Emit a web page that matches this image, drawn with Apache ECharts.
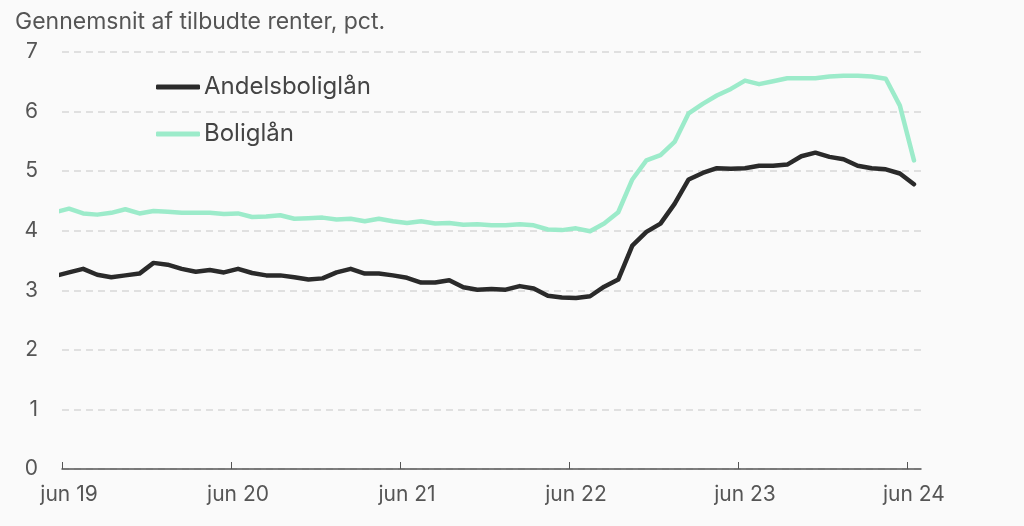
<!DOCTYPE html>
<html>
<head>
<meta charset="utf-8">
<script src="https://cdn.jsdelivr.net/npm/echarts@6/dist/echarts.min.js"></script>
<style>
  html, body { margin: 0; padding: 0; background: #fafafa; }
  #chart { width: 1024px; height: 526px; }
</style>
</head>
<body>
<div id="chart"></div>
<script>
// maanedlige tal, maj 19 - jun 24 (maj 19 klippes af ved aksens start)
var monthNames = ['jan', 'feb', 'mar', 'apr', 'maj', 'jun', 'jul', 'aug', 'sep', 'okt', 'nov', 'dec'];
var months = [];
for (var i = 0; i < 62; i++) {
    var m = (4 + i) % 12;
    var y = 19 + Math.floor((4 + i) / 12);
    months.push(monthNames[m] + ' ' + y);
}

var andelsboliglaan = [3.24, 3.30, 3.36, 3.26, 3.22, 3.25, 3.28, 3.46, 3.43, 3.36,
    3.31, 3.34, 3.30, 3.36, 3.29, 3.25, 3.25, 3.22, 3.18, 3.20,
    3.30, 3.36, 3.28, 3.28, 3.25, 3.21, 3.13, 3.13, 3.17, 3.05,
    3.01, 3.02, 3.01, 3.07, 3.03, 2.91, 2.88, 2.87, 2.90, 3.06,
    3.18, 3.75, 3.98, 4.12, 4.45, 4.86, 4.97, 5.05, 5.04, 5.05,
    5.09, 5.09, 5.11, 5.25, 5.31, 5.24, 5.20, 5.09, 5.05, 5.03,
    4.96, 4.78];

var boliglaan = [4.31, 4.37, 4.29, 4.27, 4.30, 4.36, 4.29, 4.33, 4.32, 4.30,
    4.30, 4.30, 4.28, 4.29, 4.23, 4.24, 4.26, 4.20, 4.21, 4.22,
    4.19, 4.20, 4.16, 4.20, 4.16, 4.13, 4.16, 4.12, 4.13, 4.10,
    4.11, 4.09, 4.09, 4.11, 4.09, 4.02, 4.01, 4.04, 3.99, 4.12,
    4.31, 4.86, 5.18, 5.27, 5.49, 5.97, 6.13, 6.27, 6.38, 6.52,
    6.46, 6.51, 6.56, 6.56, 6.56, 6.59, 6.60, 6.60, 6.59, 6.55,
    6.10, 5.18];

var tickLabels = ['jun 19', 'jun 20', 'jun 21', 'jun 22', 'jun 23', 'jun 24'];

// x = maanedens midte; jun 19 starter ved 0
function toPoints(values) {
    return values.map(function (v, i) { return [i - 0.5, v]; });
}

var font = 'Inter';
var chart = echarts.init(document.getElementById('chart'));

var option = {
    backgroundColor: '#fafafa',
    animation: false,
    title: {
        text: 'Gennemsnit af tilbudte renter, pct.',
        left: 10,
        top: 6,
        textStyle: { fontFamily: font, fontSize: 23, fontWeight: 'normal', color: '#555' }
    },
    legend: {
        orient: 'vertical',
        left: 151,
        top: 70,
        itemWidth: 44,
        itemHeight: 5,
        itemGap: 23,
        icon: 'roundRect',
        textStyle: { fontFamily: font, fontSize: 24, color: '#444', padding: [0, 0, 0, -1] },
        data: ['Andelsboliglån', 'Boliglån']
    },
    grid: { left: 62, right: 103, top: 52, bottom: 57 },
    xAxis: {
        type: 'value',
        min: 0,
        max: 61,
        axisLine: { lineStyle: { color: '#555', width: 1.5 } },
        axisTick: {
            inside: true,
            length: 7,
            customValues: [0, 12, 24, 36, 48, 60],
            lineStyle: { color: '#555', width: 1 }
        },
        axisLabel: {
            customValues: [0.5, 12.5, 24.5, 36.5, 48.5, 60.5],
            margin: 15,
            fontFamily: font,
            fontSize: 21,
            color: '#555',
            formatter: function (v) { return tickLabels[Math.round((v - 0.5) / 12)]; }
        },
        splitLine: { show: false }
    },
    yAxis: {
        type: 'value',
        min: 0,
        max: 7,
        interval: 1,
        axisLine: { show: false },
        axisTick: { show: false },
        axisLabel: { fontFamily: font, fontSize: 21, color: '#555', margin: 24 },
        splitLine: { lineStyle: { color: '#d8d8d8', type: [7, 5], width: 1.5 } }
    },
    series: [{
        name: 'Andelsboliglån',
        type: 'line',
        data: toPoints(andelsboliglaan),
        showSymbol: false,
        symbol: 'none',
        color: '#2a2a2a',
        lineStyle: { color: '#2a2a2a', width: 4.5, cap: 'round', join: 'round' }
    }, {
        name: 'Boliglån',
        type: 'line',
        data: toPoints(boliglaan),
        showSymbol: false,
        symbol: 'none',
        color: '#9cebca',
        lineStyle: { color: '#9cebca', width: 4.5, cap: 'round', join: 'round' }
    }]
};

chart.setOption(option);
</script>
</body>
</html>
